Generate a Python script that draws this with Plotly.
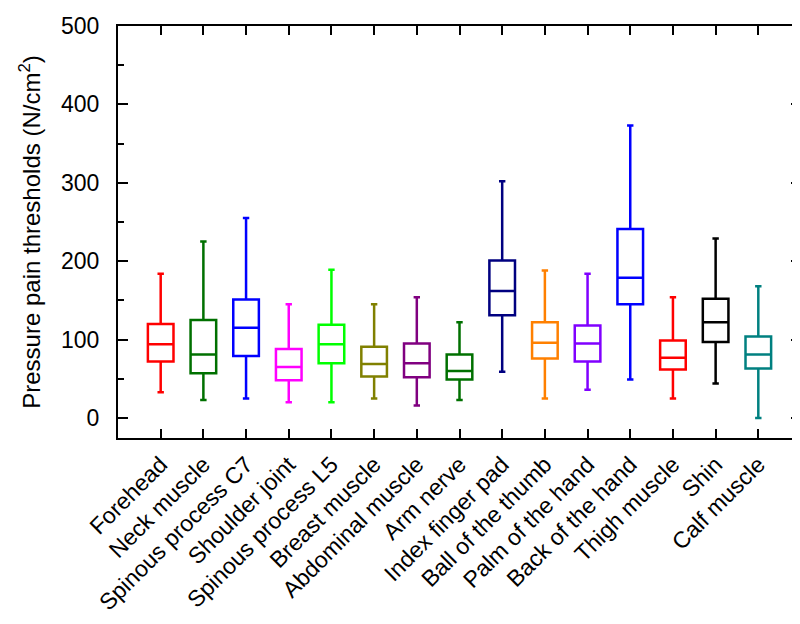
import plotly.graph_objects as go

categories = ["Forehead", "Neck muscle", "Spinous process C7", "Shoulder joint",
              "Spinous process L5", "Breast muscle", "Abdominal muscle", "Arm nerve",
              "Index finger pad", "Ball of the thumb", "Palm of the hand",
              "Back of the hand", "Thigh muscle", "Shin", "Calf muscle"]
lower_whisker = [33, 23, 25, 20, 20, 25, 16, 23, 59, 25, 36, 49, 25, 44, 0]
q1_values = [72, 57, 79, 48, 70, 53, 52, 49, 131, 76, 72, 145, 62, 97, 63]
median_values = [94, 81, 115, 65, 94, 69, 70, 60, 162, 96, 95, 179, 77, 122, 81]
q3_values = [120, 125, 151, 88, 119, 91, 95, 81, 201, 122, 118, 241, 99, 152, 104]
upper_whisker = [184, 225, 255, 145, 189, 145, 154, 122, 302, 188, 184, 373, 154, 229, 168]
colors = ["#FF0000", "#007000", "#0000FF", "#FF00FF", "#00FF00", "#808000",
          "#800080", "#007000", "#000080", "#FF8000", "#8000FF", "#0000FF",
          "#FF0000", "#000000", "#008080"]

fig = go.Figure()
for i, cat in enumerate(categories):
    fig.add_trace(go.Box(
        x=[cat],
        q1=[q1_values[i]], median=[median_values[i]], q3=[q3_values[i]],
        lowerfence=[lower_whisker[i]], upperfence=[upper_whisker[i]],
        fillcolor="rgba(0,0,0,0)",
        line=dict(color=colors[i], width=2.5),
        width=0.6, whiskerwidth=0.25,
        boxpoints=False, showlegend=False, hoverinfo="skip",
    ))

font_family = "Liberation Sans, Arial, sans-serif"
fig.update_layout(
    width=800, height=624,
    margin=dict(l=110, r=5, t=17, b=194),
    plot_bgcolor="white", paper_bgcolor="white",
    boxmode="overlay",
    font=dict(family=font_family, size=23, color="black"),
)
fig.update_xaxes(
    type="category", categoryorder="array", categoryarray=categories,
    range=[-1, 15], tickangle=-45,
    showline=True, linecolor="black", linewidth=2, mirror="allticks",
    ticks="inside", ticklen=9, tickwidth=1.5, tickcolor="black",
    showgrid=False, zeroline=False, ticklabelstandoff=2,
    tickfont=dict(size=23, family=font_family),
)
fig.update_yaxes(
    range=[-25.5, 500], tickvals=[0, 100, 200, 300, 400, 500],
    showline=True, linecolor="black", linewidth=2, mirror="allticks",
    ticks="inside", ticklen=10, tickwidth=1.5, tickcolor="black",
    minor=dict(tickvals=[50, 150, 250, 350, 450], ticks="inside", ticklen=6,
               tickwidth=1.5, tickcolor="black", showgrid=False),
    showgrid=False, zeroline=False, ticklabelstandoff=12,
    tickfont=dict(size=23, family=font_family),
    title=dict(text="Pressure pain thresholds (N/cm<sup>2</sup>)",
               font=dict(size=24, family=font_family), standoff=14),
)

fig.write_html("out.html")
